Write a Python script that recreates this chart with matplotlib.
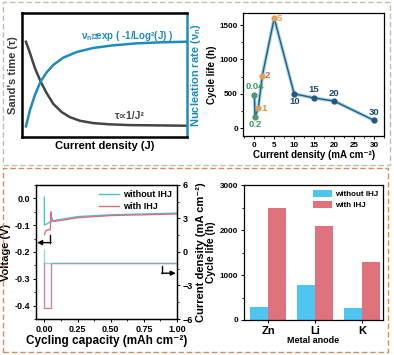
import numpy as np
import matplotlib
matplotlib.use('Agg')
import matplotlib.pyplot as plt
from matplotlib.patches import Rectangle
from matplotlib.ticker import MultipleLocator, FormatStrFormatter
import matplotlib.patheffects as pe

plt.rcParams['font.family'] = ['Liberation Sans', 'DejaVu Sans']
plt.rcParams['font.weight'] = 'bold'
plt.rcParams['axes.labelweight'] = 'bold'
plt.rcParams['mathtext.default'] = 'regular'
plt.rcParams['axes.linewidth'] = 0.9
plt.rcParams['xtick.major.size'] = 2.5
plt.rcParams['ytick.major.size'] = 2.5
plt.rcParams['xtick.minor.size'] = 1.5
plt.rcParams['ytick.minor.size'] = 1.5
plt.rcParams['xtick.major.width'] = 0.7
plt.rcParams['ytick.major.width'] = 0.7
plt.rcParams['xtick.minor.width'] = 0.6
plt.rcParams['ytick.minor.width'] = 0.6

# ---- (a) schematic curves (axis fractions)
j_tau = [0.024, 0.049, 0.079, 0.113, 0.150, 0.190, 0.241, 0.291, 0.352, 0.433, 0.534, 0.656, 0.798, 0.994]
tau = [0.767, 0.674, 0.553, 0.447, 0.353, 0.267, 0.201, 0.160, 0.131, 0.112, 0.102, 0.096, 0.094, 0.091]
j_nu = [0.024, 0.049, 0.079, 0.113, 0.150, 0.190, 0.251, 0.332, 0.433, 0.555, 0.696, 0.838, 0.994]
nu = [0.086, 0.219, 0.340, 0.447, 0.521, 0.580, 0.639, 0.684, 0.717, 0.738, 0.754, 0.762, 0.767]

# ---- (b) cycle life vs current density
cd = [0.04, 0.2, 1, 2, 5, 10, 15, 20, 30]
cd_life = [480, 170, 290, 760, 1600, 500, 440, 395, 115]
cd_text = ['0.04', '0.2', '1', '2', '5', '10', '15', '20', '30']

# ---- (c) voltage / current vs capacity
cap_wo = [0, 0, 0.02, 0.05, 0.1, 0.25, 0.5, 0.75, 1.0]
volt_wo = [0.005, -0.10, -0.095, -0.085, -0.08, -0.068, -0.061, -0.058, -0.055]
cap_w = [0, 0.01, 0.02, 0.045, 0.05, 0.053, 0.065, 0.1, 0.25, 0.5, 0.75, 1.0]
volt_w = [-0.135, -0.122, -0.118, -0.117, -0.05, -0.07, -0.086, -0.084, -0.072, -0.064, -0.061, -0.058]
icap_wo = [0, 0, 1.0]
cur_wo = [0.2, -1, -1]
icap_w = [0, 0, 0.05, 0.05, 1.0]
cur_w = [-1, -5, -5, -1, -1]

# ---- (d) cycle life per metal anode
metals = ['Zn', 'Li', 'K']
life_wo = [300, 780, 270]
life_w = [2500, 2100, 1300]

blue = '#1f8bbd'
cyan = '#4cc3d3'
pink = '#d36f7f'
B = 'bold'


def bold_ticks(a):
    for lab in a.get_xticklabels() + a.get_yticklabels():
        lab.set_fontweight(B)


fig = plt.figure(figsize=(3.94, 3.55), dpi=100)

# ================= (a)
ax = fig.add_axes([0.0558, 0.614, 0.418, 0.350])
ax.plot(j_tau, tau, color='#454545', lw=1.8)
ax.plot(j_nu, nu, color=blue, lw=1.8)
ax.set_xlim(0, 1)
ax.set_ylim(0, 1)
ax.set_xticks([])
ax.set_yticks([])
for s in ['left', 'top', 'bottom']:
    ax.spines[s].set_linewidth(1.8)
ax.spines['right'].set_color(blue)
ax.spines['right'].set_linewidth(1.8)
ax.set_xlabel('Current density (J)', fontsize=8, fontweight=B, labelpad=3)
ax.set_ylabel("Sand's time (τ)", fontsize=8, fontweight=B, color='#3a3a3a', labelpad=3)
ax.text(0.36, 0.81, 'ν$_n$∝exp ( -1/Log²(J) )', color=blue, fontsize=7, fontweight=B,
        va='center', ha='left', transform=ax.transAxes)
ax.text(0.565, 0.166, 'τ∝1/J²', color='#454545', fontsize=7.5,
        va='center', ha='left', transform=ax.transAxes)
ax2 = ax.twinx()
ax2.set_yticks([])
for s in ax2.spines.values():
    s.set_visible(False)
ax2.set_ylabel('Nucleation rate (ν$_n$)', fontsize=8, fontweight=B, color=blue, labelpad=2)

# ================= (b)
ax = fig.add_axes([0.618, 0.6155, 0.3566, 0.348])
ax.plot(cd, cd_life, color='#235b82', lw=1.0,
        path_effects=[pe.Stroke(linewidth=2.6, foreground='#a6d6ef'), pe.Normal()])
pt_col = ['#4f9a68', '#4f9a68', '#e0a05a', '#e0a05a', '#e0a05a',
          '#245a82', '#245a82', '#245a82', '#245a82']
txt_col = ['#3f9a5f', '#3f9a5f', '#e08e48', '#e0654a', '#e8a050',
           '#1f4a6a', '#1f4a6a', '#1f4a6a', '#1f4a6a']
offs = [(0, 3, 'center', 'bottom'), (0, -2.5, 'center', 'top'), (2, 0, 'left', 'center'),
        (2, 0, 'left', 'center'), (2, 0, 'left', 'center'), (0, -2.5, 'center', 'top'),
        (0, 2.5, 'center', 'bottom'), (0, 2.5, 'center', 'bottom'), (0, 2.5, 'center', 'bottom')]
for x, y, t, pc, tc, o in zip(cd, cd_life, cd_text, pt_col, txt_col, offs):
    ax.plot(x, y, 'o', ms=3.5, color=pc, zorder=3)
    ax.annotate(t, (x, y), xytext=(o[0], o[1]), textcoords='offset points',
                ha=o[2], va=o[3], color=tc, fontsize=6.8, fontweight=B)
ax.set_xlim(-2.7, 32.5)
ax.set_ylim(-120, 1675)
ax.set_xticks([0, 5, 10, 15, 20, 25, 30])
ax.set_yticks([0, 500, 1000, 1500])
ax.xaxis.set_minor_locator(MultipleLocator(2.5))
ax.yaxis.set_minor_locator(MultipleLocator(250))
ax.tick_params(labelsize=5.8, pad=1.5)
bold_ticks(ax)
ax.set_xlabel('Current density (mA cm⁻²)', fontsize=7, fontweight=B, labelpad=1)
ax.set_ylabel('Cycle life (h)', fontsize=7, fontweight=B, labelpad=2)

# ================= (c)
ax = fig.add_axes([0.0914, 0.1014, 0.358, 0.3775])
ax.plot(cap_wo, volt_wo, color=cyan, lw=1.0, label='without IHJ')
ax.plot(cap_w, volt_w, color=pink, lw=1.0, label='with IHJ')
ax.set_xlim(-0.063, 1.0)
ax.set_ylim(-0.45, 0.05)
ax.set_xticks([0, 0.25, 0.5, 0.75, 1.0])
ax.set_yticks([-0.4, -0.3, -0.2, -0.1, 0.0])
ax.xaxis.set_major_formatter(FormatStrFormatter('%.2f'))
ax.yaxis.set_major_formatter(FormatStrFormatter('%.1f'))
ax.xaxis.set_minor_locator(MultipleLocator(0.125))
ax.yaxis.set_minor_locator(MultipleLocator(0.05))
ax.tick_params(labelsize=6.5, pad=1.5)
bold_ticks(ax)
ax.set_xlabel('Cycling capacity (mAh cm⁻²)', fontsize=8.5, fontweight=B, labelpad=1)
ax.set_ylabel('Voltage (V)', fontsize=8, fontweight=B, labelpad=3)
ax.plot([0.045, 0.045], [-0.138, -0.165], color='black', lw=1.0)
ax.annotate('', xy=(-0.055, -0.165), xytext=(0.05, -0.165),
            arrowprops=dict(arrowstyle='-|>', color='black', lw=1.0,
                            mutation_scale=7, shrinkA=0, shrinkB=0))
ax.legend(loc='upper right', frameon=False, handlelength=2.2,
          prop={'size': 6.5, 'weight': B},
          borderaxespad=0.2, labelspacing=0.25, handletextpad=0.4)
axr = ax.twinx()
axr.plot(icap_w, cur_w, color=pink, lw=1.0, alpha=0.85)
axr.plot(icap_wo, cur_wo, color=cyan, lw=1.0, alpha=0.6)
axr.set_ylim(-6, 6)
axr.set_yticks([-6, -3, 0, 3, 6])
axr.yaxis.set_minor_locator(MultipleLocator(1.5))
axr.tick_params(labelsize=6.5, pad=1.5)
bold_ticks(axr)
axr.set_ylabel('Current density (mA cm⁻²)', fontsize=8, fontweight=B, labelpad=2)
axr.plot([0.89, 0.89], [-1.25, -1.9], color='black', lw=1.0)
axr.annotate('', xy=(0.99, -1.9), xytext=(0.885, -1.9),
             arrowprops=dict(arrowstyle='-|>', color='black', lw=1.0,
                             mutation_scale=7, shrinkA=0, shrinkB=0))

# ================= (d)
ax = fig.add_axes([0.619, 0.0986, 0.3528, 0.380])
xpos = np.arange(len(metals))
w = 0.39
ax.bar(xpos - w / 2, life_wo, w, color='#4fc6ef', label='without IHJ')
ax.bar(xpos + w / 2, life_w, w, color='#e0727d', label='with IHJ')
ax.set_xlim(-0.52, 2.45)
ax.set_ylim(0, 3000)
ax.set_xticks(xpos)
ax.set_xticklabels(metals, fontsize=8)
ax.set_yticks([0, 1000, 2000, 3000])
ax.yaxis.set_minor_locator(MultipleLocator(500))
ax.tick_params(axis='y', labelsize=5.8, pad=1.5)
ax.tick_params(axis='x', pad=1.5)
bold_ticks(ax)
ax.set_xlabel('Metal anode', fontsize=6.5, fontweight=B, labelpad=0.5)
ax.set_ylabel('Cycle life (h)', fontsize=7.5, fontweight=B, labelpad=2.5)
ax.legend(loc='upper right', frameon=False, handlelength=2.3,
          prop={'size': 5.8, 'weight': B},
          handleheight=1.0, borderaxespad=0.2, labelspacing=0.3, handletextpad=0.4)

# dashed panel borders
fig.add_artist(Rectangle((0.0076, 0.535), 0.982, 0.459, transform=fig.transFigure,
                         fill=False, ls=(0, (4, 2)), lw=1.0, ec='#b4c4aa'))
fig.add_artist(Rectangle((0.0076, 0.0085), 0.977, 0.518, transform=fig.transFigure,
                         fill=False, ls=(0, (4, 2)), lw=1.0, ec='#d98e5a'))

fig.savefig('out.png', dpi=100)
